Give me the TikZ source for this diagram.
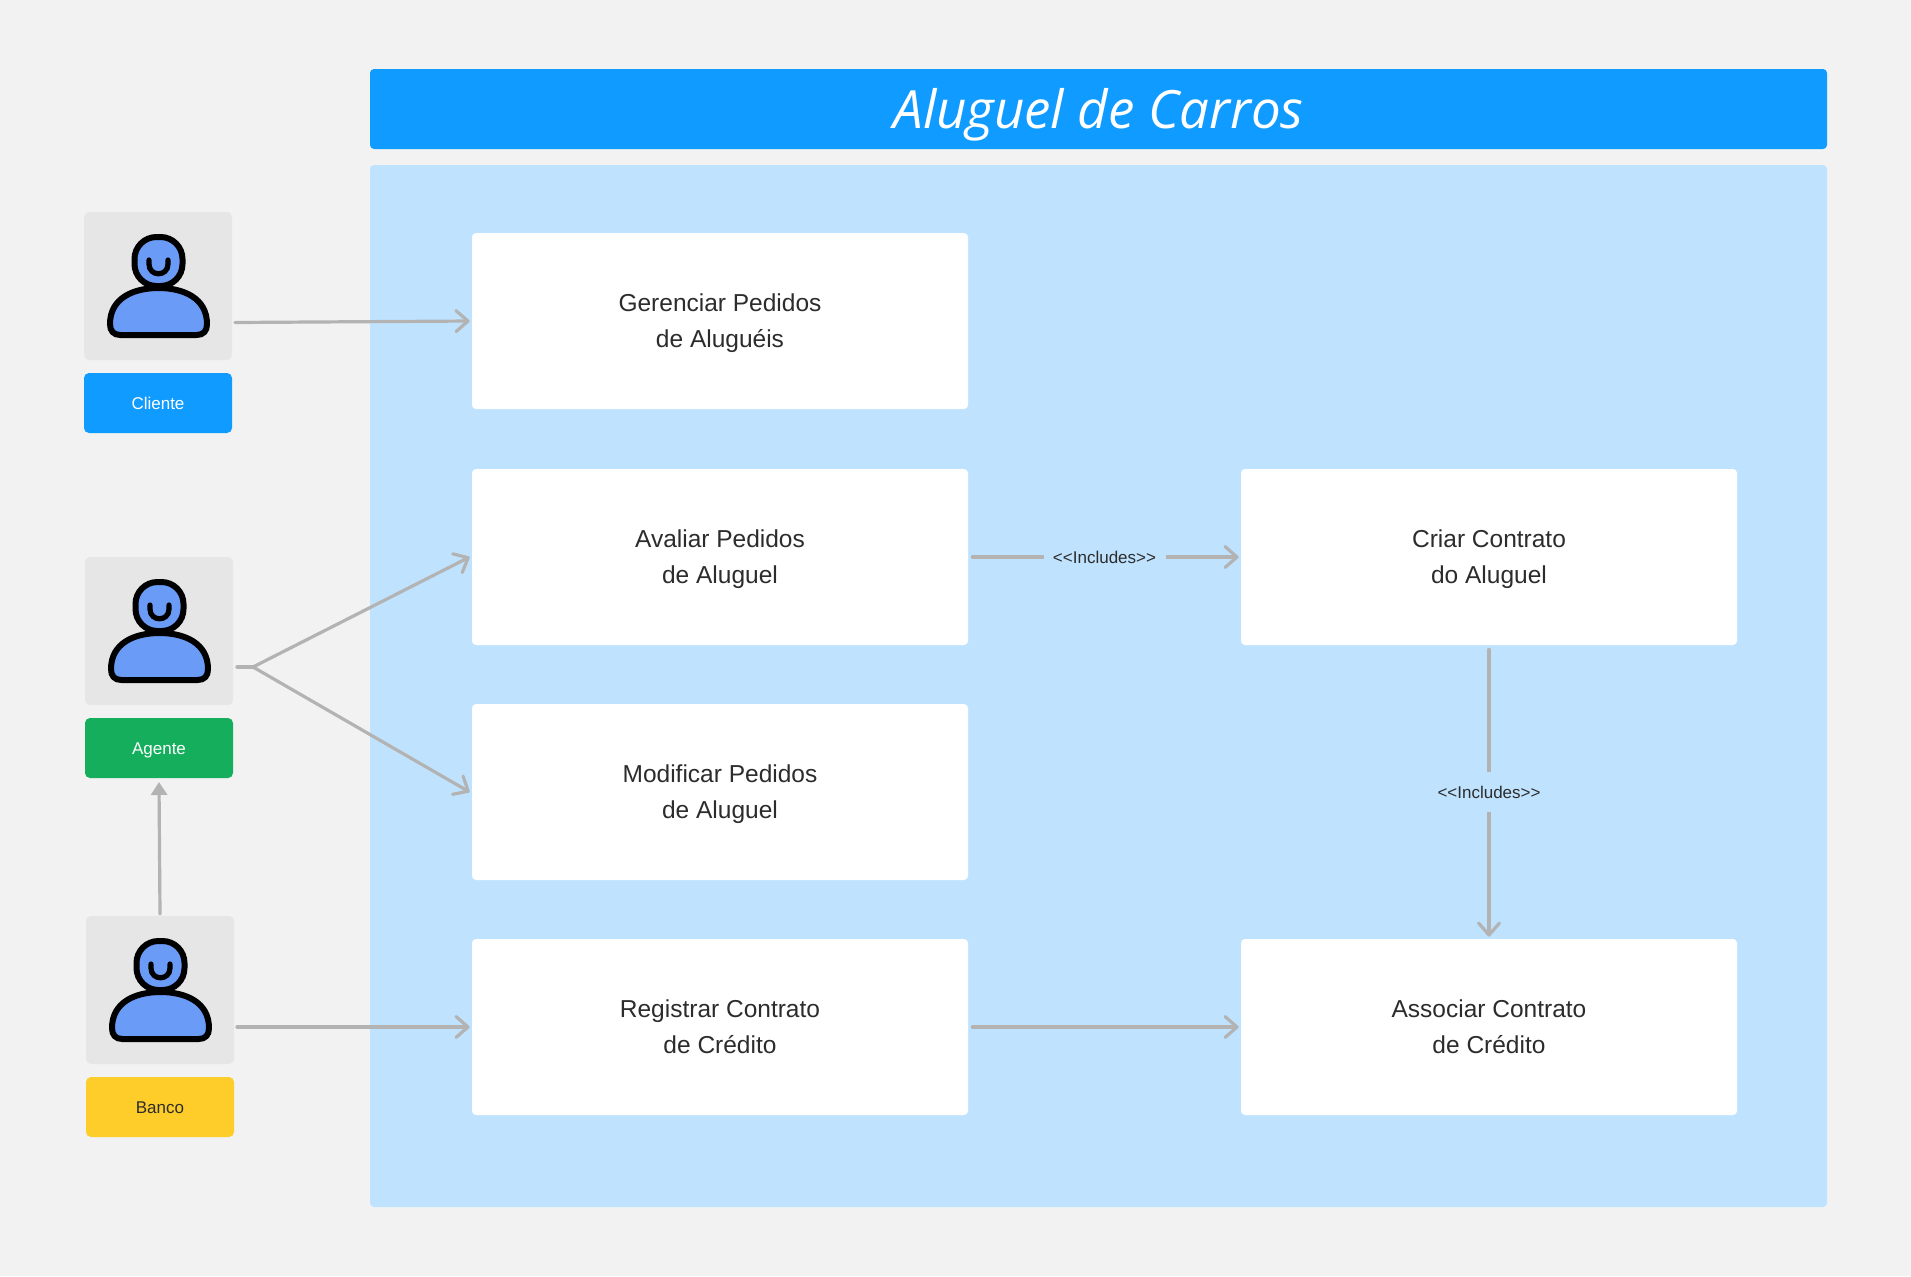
\documentclass[tikz,border=0pt]{standalone}
\usepackage{fontspec}
\setmainfont{Liberation Sans}
\newfontfamily\titlefont{Open Sans}
\usetikzlibrary{arrows.meta}
\definecolor{bgcol}{HTML}{F2F2F2}
\definecolor{titlecol}{HTML}{0F9BFF}
\definecolor{panelcol}{HTML}{BFE3FF}
\definecolor{actorcol}{HTML}{E6E6E6}
\definecolor{iconcol}{HTML}{699BF7}
\definecolor{greencol}{HTML}{14AE5C}
\definecolor{yellowcol}{HTML}{FFCD29}
\definecolor{linecol}{HTML}{B3B3B3}
\definecolor{textcol}{HTML}{2C2C2C}
\begin{document}
\begin{tikzpicture}[x=0.5pt,y=-0.5pt]
      \tikzset{usecase box/.style={inner sep=0pt,
          outer sep=1.2pt,
          minimum width=248pt,
          minimum height=88pt,
          rounded corners=2pt,
          fill=white,
          text=textcol,
          align=center,
          text height=29.4pt,
          text depth=2.6pt,
          font=\fontsize{12.25}{18}\selectfont},
        actor box/.style={inner sep=0pt,
          outer sep=1pt,
          minimum size=74pt,
          rounded corners=2.5pt,
          fill=actorcol},
        actor label/.style={inner sep=0pt,
          outer sep=2pt,
          minimum width=74pt,
          minimum height=30pt,
          rounded corners=2.5pt,
          fill=#1,
          text height=6.1pt,
          text depth=0pt,
          font=\fontsize{8.5}{10}\selectfont},
        includes/.style={inner sep=0pt,
          minimum width=61pt,
          minimum height=20pt,
          fill=panelcol,
          text=textcol,
          font=\fontsize{8.5}{10}\selectfont},
        link/.style={draw=linecol,
          line width=1.6pt,
          line cap=round,
          -{Straight Barb[length=6pt,width=10.5pt,round]}},
        plain link/.style={draw=linecol,
          line width=1.6pt,
          line cap=round},
        actor icon/.pic={
          \draw [fill=iconcol,line width=3pt,line join=round]
          (-48.5,38) .. controls (-48.5,12) and (-25,2) .. (0,2)
          .. controls (25,2) and (48.5,12) .. (48.5,38)
          .. controls (48.5,45) and (45,49) .. (38,49)
          -- (-38,49)
          .. controls (-45,49) and (-48.5,45) .. (-48.5,38) -- cycle;
          \draw [fill=iconcol,line width=3pt,rounded corners=11pt]
          (-24,-49) rectangle (24,0);
          \draw [line width=2.6pt,line cap=round]
          (-9.5,-26) -- (-9.5,-22) .. controls (-9.5,-9) and (9.5,-9) .. (9.5,-22) -- (9.5,-26);
        }
      }
      \fill [bgcol] (0,0) rectangle (1911,1276);
      \useasboundingbox (0,0) rectangle (1911,1276);

      \node [fill=titlecol,rounded corners=2pt,inner sep=0pt,minimum width=728.5pt,minimum height=40pt,
        text=white,text height=25pt,text depth=5.5pt,
        font=\titlefont\itshape\fontsize{26.4}{30}\selectfont]
        (title) at (1098.5,109) {Aluguel de Carros};
      \node [fill=panelcol,rounded corners=2pt,inner sep=0pt,minimum width=728.5pt,minimum height=521pt]
        (panel) at (1098.5,686) {};

      \node [actor box] (cliente) at (158,286) {};
      \node [actor box] (agente) at (159,631) {};
      \node [actor box] (banco) at (160,990) {};
      \pic at (158.5,286) {actor icon};
      \pic at (159.5,631) {actor icon};
      \pic at (160.5,990) {actor icon};
      \node [actor label=titlecol,text=white] (cliente label) at (158,403) {Cliente};
      \node [actor label=greencol,text=white] (agente label) at (159,748) {Agente};
      \node [actor label=yellowcol,text=textcol] (banco label) at (160,1107) {Banco};

      \node [usecase box] (gerenciar) at (720,321) {Gerenciar Pedidos\\de Aluguéis};
      \node [usecase box] (avaliar) at (720,557) {Avaliar Pedidos\\de Aluguel};
      \node [usecase box] (modificar) at (720,792) {Modificar Pedidos\\de Aluguel};
      \node [usecase box] (registrar) at (720,1027) {Registrar Contrato\\de Crédito};
      \node [usecase box] (criar) at (1489,557) {Criar Contrato\\do Aluguel};
      \node [usecase box] (associar) at (1489,1027) {Associar Contrato\\de Crédito};

      \coordinate (cliente out) at (235,322.5);
      \coordinate (agente out) at (237,667);
      \coordinate (agente fork) at (253,667);
      \coordinate (banco out) at (237,1027);

      \draw [link] (cliente out) -- (gerenciar.west);
      \draw [plain link] (agente out) -- (agente fork);
      \draw [link] (agente fork) -- (avaliar.west);
      \draw [link] (agente fork) -- (modificar.west);
      \draw [link] (banco out) -- (registrar.west);
      \draw [plain link,-{Triangle[length=6.5pt,width=8pt]}]
        (banco.north) -- (agente label.south);
      \draw [link,shorten <=1pt] (avaliar.east) -- node [includes] (includes a) {<{}<Includes>{}>} (criar.west);
      \draw [link,shorten <=1pt] (criar.south) -- node [includes] (includes b) {<{}<Includes>{}>} (associar.north);
      \draw [link,shorten <=1pt] (registrar.east) -- (associar.west);
    \end{tikzpicture}
\end{document}
